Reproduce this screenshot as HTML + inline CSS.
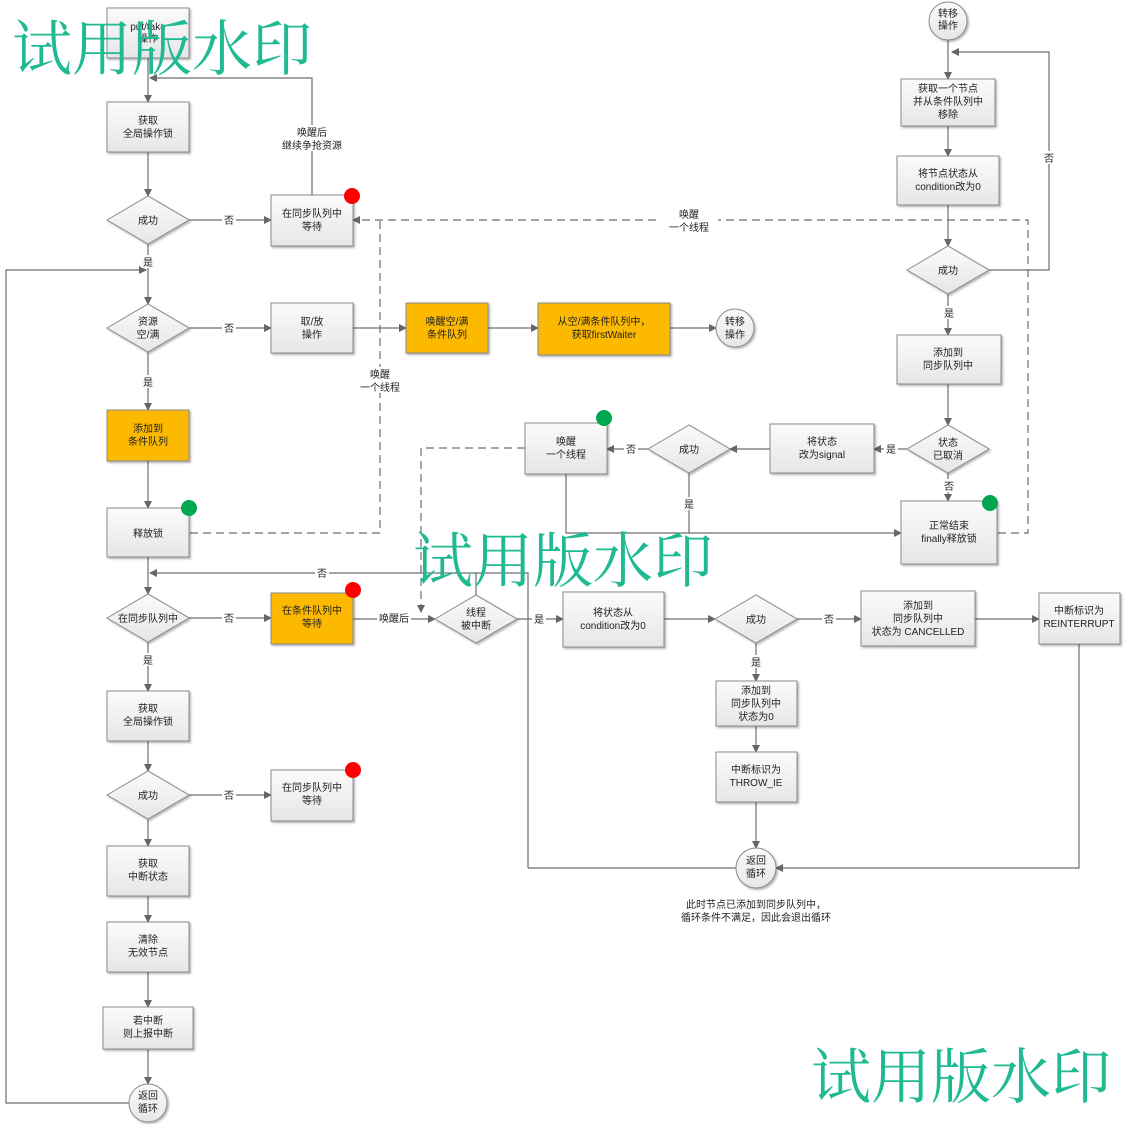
<!DOCTYPE html>
<html><head><meta charset="utf-8"><style>
body{margin:0;background:#fff}
svg{display:block}
text{font-family:"Liberation Sans","Noto Sans CJK SC",sans-serif;font-size:10px;fill:#222;text-anchor:middle}
.wm{font-family:"Liberation Serif","Noto Serif CJK SC",serif;font-size:60px;fill:#1fba92;text-anchor:start}
</style></head><body>
<svg width="1124" height="1124" viewBox="0 0 1124 1124" xmlns="http://www.w3.org/2000/svg">
<defs>
<linearGradient id="g" x1="0" y1="0" x2="0" y2="1"><stop offset="0" stop-color="#fbfbfb"/><stop offset="1" stop-color="#e6e6e6"/></linearGradient>
<marker id="a" markerWidth="8" markerHeight="8" refX="7" refY="4" orient="auto" markerUnits="userSpaceOnUse"><path d="M0,0 L8,4 L0,8z" fill="#666"/></marker>
<filter id="s"><feDropShadow dx="1.5" dy="1.5" stdDeviation="1" flood-opacity="0.3"/></filter>
</defs>
<g fill="none" stroke="#6e6e6e" stroke-width="1.2">
<!-- left column -->
<path d="M148,58 V102" marker-end="url(#a)"/>
<path d="M312,195 V78 H150" marker-end="url(#a)"/>
<path d="M148,152 V196" marker-end="url(#a)"/>
<path d="M189,220 H271" marker-end="url(#a)"/>
<path d="M148,244 V304" marker-end="url(#a)"/>
<path d="M130,1103 H6 V270 H146" marker-end="url(#a)"/>
<path d="M189,328 H271" marker-end="url(#a)"/>
<path d="M353,328 H406" marker-end="url(#a)"/>
<path d="M488,328 H538" marker-end="url(#a)"/>
<path d="M670,328 H716" marker-end="url(#a)"/>
<path d="M148,352 V410" marker-end="url(#a)"/>
<path d="M148,461 V508" marker-end="url(#a)"/>
<path d="M148,557 V594" marker-end="url(#a)"/>
<path d="M528,868 V573 H150" marker-end="url(#a)"/>
<path d="M476,595 V573"/>
<path d="M189,618 H271" marker-end="url(#a)"/>
<path d="M353,619 H435" marker-end="url(#a)"/>
<path d="M517,619 H563" marker-end="url(#a)"/>
<path d="M148,642 V691" marker-end="url(#a)"/>
<path d="M148,741 V771" marker-end="url(#a)"/>
<path d="M189,795 H271" marker-end="url(#a)"/>
<path d="M148,819 V846" marker-end="url(#a)"/>
<path d="M148,896 V922" marker-end="url(#a)"/>
<path d="M148,972 V1007" marker-end="url(#a)"/>
<path d="M148,1049 V1084" marker-end="url(#a)"/>
<!-- right part -->
<path d="M948,40 V79" marker-end="url(#a)"/>
<path d="M989,270 H1049 V52 H952" marker-end="url(#a)"/>
<path d="M948,126 V156" marker-end="url(#a)"/>
<path d="M948,205 V246" marker-end="url(#a)"/>
<path d="M948,294 V335" marker-end="url(#a)"/>
<path d="M948,384 V425" marker-end="url(#a)"/>
<path d="M907,449 H874" marker-end="url(#a)"/>
<path d="M770,449 H730" marker-end="url(#a)"/>
<path d="M648,449 H607" marker-end="url(#a)"/>
<path d="M948,473 V501" marker-end="url(#a)"/>
<path d="M566,474 V533 H901" marker-end="url(#a)"/>
<path d="M689,473 V533"/>
<path d="M664,619 H715" marker-end="url(#a)"/>
<path d="M797,619 H861" marker-end="url(#a)"/>
<path d="M975,619 H1039" marker-end="url(#a)"/>
<path d="M756,643 V681" marker-end="url(#a)"/>
<path d="M756,726 V752" marker-end="url(#a)"/>
<path d="M756,802 V848" marker-end="url(#a)"/>
<path d="M1079,644 V868 H776" marker-end="url(#a)"/>
<path d="M756,868 H528"/>
<!-- dashed -->
<g stroke-dasharray="8,5">
<path d="M998,533 H1028 V220 H353" marker-end="url(#a)"/>
<path d="M190,533 H380 V220"/>
<path d="M525,448 H421 V612" marker-end="url(#a)"/>
</g>
</g>
<!-- line label backgrounds -->
<g fill="#fff">
<rect x="222" y="213" width="14" height="13"/><rect x="141" y="255" width="14" height="13"/>
<rect x="222" y="321" width="14" height="13"/><rect x="141" y="375" width="14" height="13"/>
<rect x="274" y="125" width="76" height="26"/><rect x="355" y="367" width="50" height="26"/>
<rect x="660" y="207" width="58" height="26"/><rect x="315" y="566" width="14" height="13"/>
<rect x="222" y="611" width="14" height="13"/><rect x="377" y="612" width="34" height="13"/>
<rect x="141" y="653" width="14" height="13"/><rect x="222" y="788" width="14" height="13"/>
<rect x="532" y="612" width="14" height="13"/><rect x="822" y="612" width="14" height="13"/>
<rect x="749" y="655" width="14" height="13"/><rect x="1042" y="151" width="14" height="13"/>
<rect x="942" y="306" width="14" height="13"/><rect x="884" y="442" width="14" height="13"/>
<rect x="624" y="442" width="14" height="13"/><rect x="682" y="497" width="14" height="13"/>
<rect x="942" y="479" width="14" height="13"/>
</g>
<g>
<text x="229" y="224">否</text><text x="148" y="266">是</text>
<text x="229" y="332">否</text><text x="148" y="386">是</text>
<text x="312" y="136">唤醒后</text><text x="312" y="149">继续争抢资源</text>
<text x="380" y="378">唤醒</text><text x="380" y="391">一个线程</text>
<text x="689" y="218">唤醒</text><text x="689" y="231">一个线程</text>
<text x="322" y="577">否</text><text x="229" y="622">否</text><text x="394" y="622">唤醒后</text>
<text x="148" y="664">是</text><text x="229" y="799">否</text>
<text x="539" y="623">是</text><text x="829" y="623">否</text><text x="756" y="666">是</text>
<text x="1049" y="162">否</text><text x="949" y="317">是</text><text x="891" y="453">是</text>
<text x="631" y="453">否</text><text x="689" y="508">是</text><text x="949" y="490">否</text>
</g>
<!-- boxes -->
<g stroke="#8a8a8a" stroke-width="1" fill="url(#g)" filter="url(#s)">
<rect x="107" y="8" width="82" height="50"/>
<rect x="107" y="102" width="82" height="50"/>
<rect x="271" y="195" width="82" height="51"/>
<rect x="271" y="303" width="82" height="50"/>
<rect x="406" y="303" width="82" height="50" fill="#fcb900"/>
<rect x="538" y="303" width="132" height="52" fill="#fcb900"/>
<rect x="107" y="410" width="82" height="51" fill="#fcb900"/>
<rect x="107" y="508" width="82" height="49"/>
<rect x="271" y="593" width="82" height="51" fill="#fcb900"/>
<rect x="107" y="691" width="82" height="50"/>
<rect x="271" y="770" width="82" height="51"/>
<rect x="107" y="846" width="82" height="50"/>
<rect x="107" y="922" width="82" height="50"/>
<rect x="103" y="1007" width="90" height="42"/>
<rect x="901" y="79" width="94" height="47"/>
<rect x="897" y="156" width="102" height="49"/>
<rect x="897" y="335" width="104" height="49"/>
<rect x="770" y="424" width="104" height="49"/>
<rect x="525" y="423" width="82" height="51"/>
<rect x="901" y="501" width="96" height="63"/>
<rect x="563" y="592" width="101" height="55"/>
<rect x="861" y="591" width="114" height="55"/>
<rect x="1039" y="593" width="81" height="51"/>
<rect x="716" y="681" width="81" height="45"/>
<rect x="716" y="752" width="81" height="50"/>
<polygon points="107,220 148,196 189,220 148,244"/>
<polygon points="107,328 148,304 189,328 148,352"/>
<polygon points="107,618 148,594 189,618 148,642"/>
<polygon points="435,619 476,595 517,619 476,643"/>
<polygon points="107,795 148,771 189,795 148,819"/>
<polygon points="907,270 948,246 989,270 948,294"/>
<polygon points="907,449 948,425 989,449 948,473"/>
<polygon points="648,449 689,425 730,449 689,473"/>
<polygon points="715,619 756,595 797,619 756,643"/>
<circle cx="735" cy="328" r="19"/>
<circle cx="948" cy="21" r="19"/>
<circle cx="148" cy="1103" r="19"/>
<circle cx="756" cy="868" r="20"/>
</g>
<g stroke="none">
<circle cx="352" cy="196" r="8" fill="#f00"/>
<circle cx="353" cy="590" r="8" fill="#f00"/>
<circle cx="353" cy="770" r="8" fill="#f00"/>
<circle cx="189" cy="508" r="8" fill="#00a650"/>
<circle cx="604" cy="418" r="8" fill="#00a650"/>
<circle cx="990" cy="503" r="8" fill="#00a650"/>
</g>
<g>
<text x="148" y="30">put/take</text><text x="148" y="42">操作</text>
<text x="148" y="124">获取</text><text x="148" y="137">全局操作锁</text>
<text x="312" y="217">在同步队列中</text><text x="312" y="230">等待</text>
<text x="148" y="224">成功</text>
<text x="148" y="325">资源</text><text x="148" y="338">空/满</text>
<text x="312" y="325">取/放</text><text x="312" y="338">操作</text>
<text x="447" y="325">唤醒空/满</text><text x="447" y="338">条件队列</text>
<text x="604" y="325">从空/满条件队列中，</text><text x="604" y="338">获取firstWaiter</text>
<text x="735" y="325">转移</text><text x="735" y="338">操作</text>
<text x="148" y="432">添加到</text><text x="148" y="445">条件队列</text>
<text x="148" y="537">释放锁</text>
<text x="148" y="622">在同步队列中</text>
<text x="312" y="614">在条件队列中</text><text x="312" y="627">等待</text>
<text x="476" y="616">线程</text><text x="476" y="629">被中断</text>
<text x="148" y="712">获取</text><text x="148" y="725">全局操作锁</text>
<text x="148" y="799">成功</text>
<text x="312" y="791">在同步队列中</text><text x="312" y="804">等待</text>
<text x="148" y="867">获取</text><text x="148" y="880">中断状态</text>
<text x="148" y="943">清除</text><text x="148" y="956">无效节点</text>
<text x="148" y="1024">若中断</text><text x="148" y="1037">则上报中断</text>
<text x="148" y="1099">返回</text><text x="148" y="1112">循环</text>
<text x="948" y="17">转移</text><text x="948" y="29">操作</text>
<text x="948" y="92">获取一个节点</text><text x="948" y="105">并从条件队列中</text><text x="948" y="118">移除</text>
<text x="948" y="177">将节点状态从</text><text x="948" y="190">condition改为0</text>
<text x="948" y="274">成功</text>
<text x="948" y="356">添加到</text><text x="948" y="369">同步队列中</text>
<text x="948" y="446">状态</text><text x="948" y="459">已取消</text>
<text x="822" y="445">将状态</text><text x="822" y="458">改为signal</text>
<text x="689" y="453">成功</text>
<text x="566" y="445">唤醒</text><text x="566" y="458">一个线程</text>
<text x="949" y="529">正常结束</text><text x="949" y="542">finally释放锁</text>
<text x="613" y="616">将状态从</text><text x="613" y="629">condition改为0</text>
<text x="756" y="623">成功</text>
<text x="918" y="609">添加到</text><text x="918" y="622">同步队列中</text><text x="918" y="635">状态为 CANCELLED</text>
<text x="1079" y="614">中断标识为</text><text x="1079" y="627">REINTERRUPT</text>
<text x="756" y="694">添加到</text><text x="756" y="707">同步队列中</text><text x="756" y="720">状态为0</text>
<text x="756" y="773">中断标识为</text><text x="756" y="786">THROW_IE</text>
<text x="756" y="864">返回</text><text x="756" y="877">循环</text>
<text x="756" y="908">此时节点已添加到同步队列中，</text><text x="756" y="921">循环条件不满足，因此会退出循环</text>
</g>
<text class="wm" x="12" y="70">试用版水印</text>
<text class="wm" x="413" y="582">试用版水印</text>
<text class="wm" x="811" y="1098">试用版水印</text>
</svg>
</body></html>
